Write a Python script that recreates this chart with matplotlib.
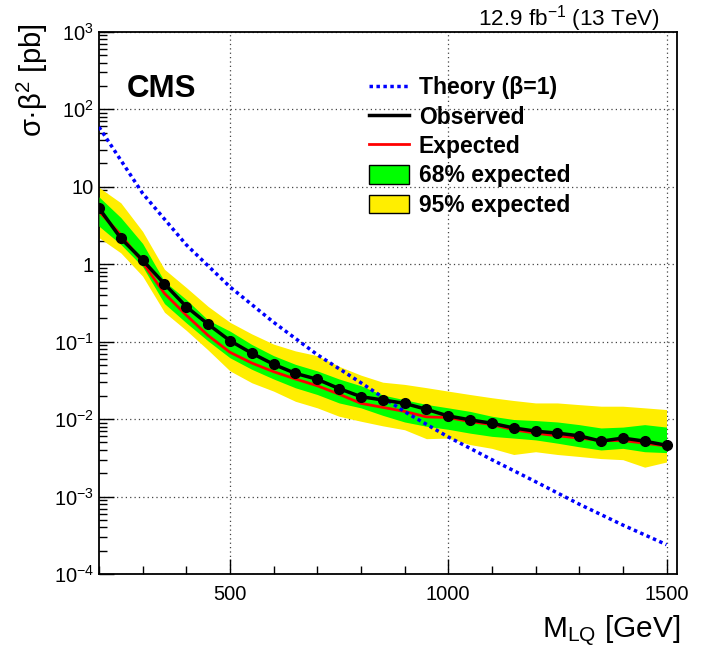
import matplotlib
matplotlib.use("Agg")
import matplotlib.pyplot as plt
import matplotlib.ticker as ticker
from matplotlib.lines import Line2D
from matplotlib.patches import Patch

plt.rcParams['font.family'] = ['Liberation Sans', 'DejaVu Sans']
plt.rcParams['mathtext.fontset'] = 'custom'
plt.rcParams['mathtext.rm'] = 'Liberation Sans'
plt.rcParams['mathtext.it'] = 'Liberation Sans:italic'
plt.rcParams['mathtext.bf'] = 'Liberation Sans:bold'

# Leptoquark mass points [GeV]
masses = list(range(200, 1501, 50))

# Limits on sigma*beta^2 [pb]
observed = [5.3, 2.16, 1.13, 0.556, 0.283, 0.168, 0.103, 0.071, 0.051, 0.039,
            0.0327, 0.0248, 0.0195, 0.0177, 0.0160, 0.0134, 0.0110, 0.0098,
            0.00885, 0.0077, 0.0070, 0.0066, 0.0061, 0.0052, 0.0057, 0.0052,
            0.0046]
expected = [4.8, 2.4, 1.05, 0.42, 0.22, 0.12, 0.073, 0.053, 0.041, 0.033,
            0.027, 0.021, 0.016, 0.0142, 0.0126, 0.0107, 0.0105, 0.0093,
            0.0085, 0.0073, 0.0066, 0.0061, 0.0057, 0.0053, 0.0053, 0.0049,
            0.0045]
green_hi = [7.4, 4.0, 1.85, 0.60, 0.35, 0.19, 0.137, 0.092, 0.066, 0.051,
            0.042, 0.033, 0.027, 0.0205, 0.0178, 0.0155, 0.0140, 0.0126,
            0.0109, 0.0099, 0.0096, 0.0092, 0.0085, 0.0077, 0.0079, 0.0085,
            0.0079]
green_lo = [3.1, 1.8, 0.93, 0.31, 0.175, 0.102, 0.062, 0.044, 0.033, 0.0254,
            0.0208, 0.0162, 0.0140, 0.0112, 0.0092, 0.0081, 0.0074, 0.0066,
            0.0060, 0.0057, 0.0054, 0.0049, 0.0044, 0.0040, 0.0042, 0.0038,
            0.0037]
yellow_hi = [9.8, 6.2, 2.65, 0.86, 0.50, 0.285, 0.178, 0.126, 0.093, 0.076,
             0.066, 0.048, 0.037, 0.030, 0.0281, 0.0255, 0.0230, 0.0208,
             0.0189, 0.0174, 0.0162, 0.0162, 0.0154, 0.0147, 0.0147, 0.0140,
             0.0133]
yellow_lo = [2.2, 1.4, 0.70, 0.24, 0.14, 0.078, 0.042, 0.0295, 0.023, 0.017,
             0.014, 0.0109, 0.0094, 0.0082, 0.0073, 0.0056, 0.0057, 0.0047,
             0.0042, 0.0035, 0.0038, 0.0035, 0.0033, 0.0031, 0.0030, 0.0024,
             0.0028]

# Theory cross section (beta = 1)
theory_masses = list(range(200, 1501, 100))
theory = [59, 8.2, 1.78, 0.51, 0.178, 0.068, 0.0295, 0.0125, 0.0059, 0.0030,
          0.00156, 0.00080, 0.00043, 0.00024]

yticks = [1e-4, 1e-3, 1e-2, 1e-1, 1, 10, 1e2, 1e3]
ylabels = ['$10^{-4}$', '$10^{-3}$', '$10^{-2}$', '$10^{-1}$', '1', '10',
           '$10^{2}$', '$10^{3}$']
xticks = [500, 1000, 1500]

fig = plt.figure(figsize=(7.04, 6.48), dpi=100)
ax = fig.add_axes([0.1406, 0.114, 0.8204, 0.837])

# Bands, expected, theory, observed
ax.fill_between(masses, yellow_lo, yellow_hi, color='#ffee00', lw=0, zorder=2)
ax.fill_between(masses, green_lo, green_hi, color='#00ff00', lw=0, zorder=3)
ax.plot(masses, expected, color='red', lw=2, zorder=4)
ax.plot(theory_masses, theory, color='blue', lw=2.5, ls=(0, (1, 1)), zorder=5)
ax.plot(masses, observed, color='black', lw=2.5, marker='o', ms=7, zorder=6)

ax.set_yscale('log')
ax.set_xlim(200, 1523)
ax.set_ylim(1e-4, 1e3)

ax.yaxis.set_major_locator(ticker.FixedLocator(yticks))
ax.yaxis.set_major_formatter(ticker.FixedFormatter(ylabels))
ax.yaxis.set_minor_locator(ticker.LogLocator(base=10, subs=range(2, 10), numticks=30))
ax.yaxis.set_minor_formatter(ticker.NullFormatter())
ax.xaxis.set_major_locator(ticker.FixedLocator(xticks))
ax.xaxis.set_minor_locator(ticker.MultipleLocator(100))

ax.tick_params(which='both', direction='in', top=False, right=False, labelsize=14.5)
ax.tick_params(which='major', length=11, width=1)
ax.tick_params(which='minor', length=6, width=1)
ax.tick_params(axis='x', pad=8)
ax.grid(which='major', color='#444444', ls=(0, (1, 2.5)), lw=0.9, zorder=1)
for sp in ax.spines.values():
    sp.set_linewidth(1.3)

# Legend
handles = [Line2D([], [], color='blue', lw=2.5, ls=(0, (1, 1))),
           Line2D([], [], color='black', lw=2.5),
           Line2D([], [], color='red', lw=2),
           Patch(facecolor='#00ff00', edgecolor='black', lw=1),
           Patch(facecolor='#ffee00', edgecolor='black', lw=1)]
labels = ['Theory (β=1)', 'Observed', 'Expected', '68% expected', '95% expected']
ax.legend(handles, labels, loc='upper left', bbox_to_anchor=(0.467, 0.918),
          frameon=False, prop={'weight': 'bold', 'size': 16.5}, handlelength=1.75,
          handleheight=0.87, labelspacing=0.28, handletextpad=0.44,
          borderaxespad=0, borderpad=0)

# Texts
fig.text(127 / 704, 1 - 97 / 648, 'CMS', weight='bold', fontsize=22.5, va='baseline')
fig.text(660 / 704, 1 - 26 / 648, '12.9 fb$^{-1}$ (13 TeV)', ha='right',
         va='baseline', fontsize=16.2)
fig.text(680 / 704, 1 - 638 / 648, 'M$_{\\rm LQ}$ [GeV]', ha='right',
         va='baseline', fontsize=21.5)
fig.text(32 / 704, 1 - 24 / 648, 'σ·β$^{2}$ [pb]', rotation=90, ha='center',
         va='top', fontsize=21)

fig.savefig('out.png', dpi=100)
